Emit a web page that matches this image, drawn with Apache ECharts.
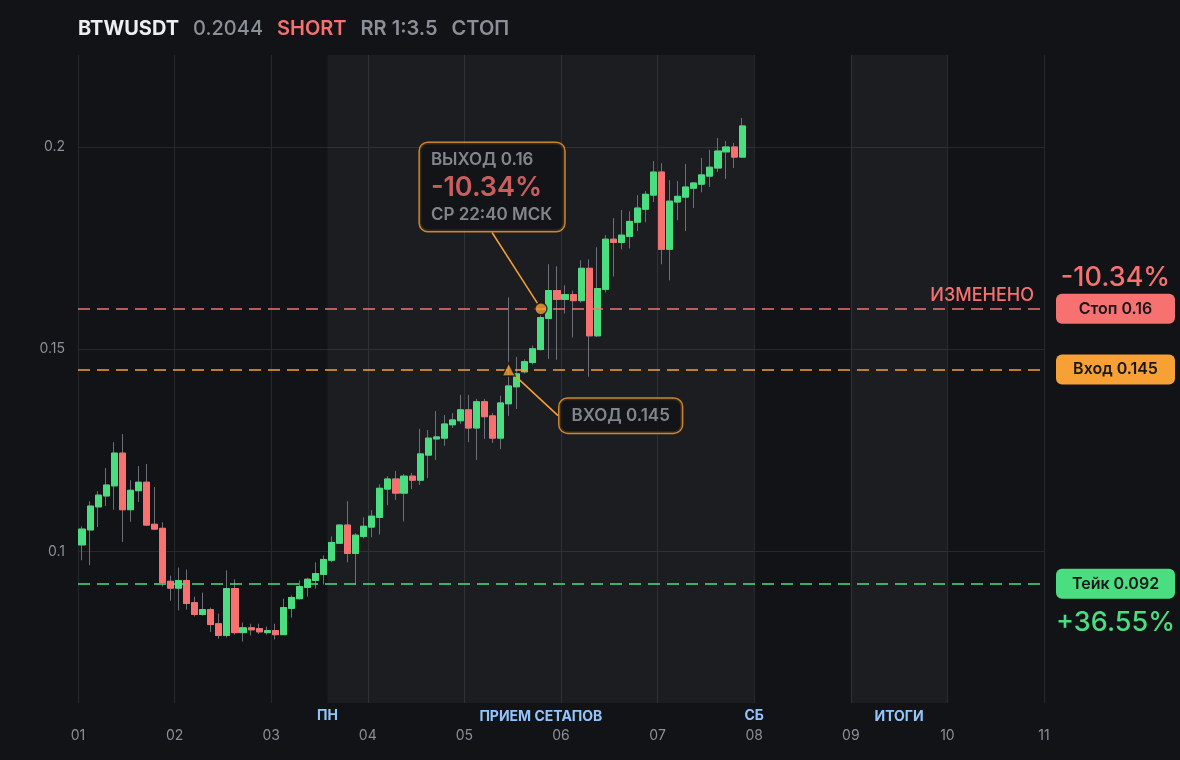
<!DOCTYPE html>
<html><head><meta charset="utf-8">
<script src="https://cdn.jsdelivr.net/npm/echarts@6/dist/echarts.min.js"></script>
<style>html,body{margin:0;padding:0;background:#121317;}#c{width:1180px;height:760px;}</style>
</head><body><div id="c"></div>
<script>
// ---- data ----
const dayLabels = ['01','02','03','04','05','06','07','08','09','10','11'];
// 2-hour candles starting at day 01 00:00
const opens  = [0.1016,0.1053,0.1110,0.1137,0.1162,0.1243,0.1103,0.1150,0.1171,0.1067,0.1057,0.0926,0.0909,0.0928,0.0873,0.0844,0.0856,0.0821,0.0792,0.0908,0.0799,0.0811,0.0809,0.0799,0.0804,0.0794,0.0859,0.0883,0.0911,0.0928,0.0943,0.0978,0.1020,0.1065,0.0995,0.1037,0.1060,0.1084,0.1154,0.1179,0.1144,0.1186,0.1176,0.1238,0.1278,0.1280,0.1313,0.1323,0.1350,0.1305,0.1370,0.1335,0.1280,0.1365,0.1407,0.1444,0.1467,0.1499,0.1576,0.1645,0.1623,0.1635,0.1620,0.1700,0.1533,0.1648,0.1772,0.1764,0.1779,0.1814,0.1846,0.1881,0.1938,0.1747,0.1864,0.1876,0.1898,0.1908,0.1928,0.1948,0.1988,0.2000,0.1975];
const closes = [0.1055,0.1112,0.1139,0.1164,0.1243,0.1103,0.1151,0.1171,0.1065,0.1055,0.0923,0.0909,0.0928,0.0871,0.0844,0.0856,0.0819,0.0792,0.0908,0.0799,0.0811,0.0806,0.0801,0.0804,0.0794,0.0861,0.0886,0.0913,0.0931,0.0945,0.0980,0.1022,0.1065,0.0995,0.1040,0.1062,0.1087,0.1156,0.1179,0.1144,0.1186,0.1176,0.1241,0.1280,0.1283,0.1315,0.1325,0.1350,0.1305,0.1370,0.1333,0.1280,0.1367,0.1409,0.1439,0.1469,0.1501,0.1578,0.1645,0.1623,0.1635,0.1620,0.1700,0.1533,0.1650,0.1772,0.1764,0.1782,0.1816,0.1849,0.1883,0.1938,0.1747,0.1866,0.1878,0.1901,0.1911,0.1931,0.1950,0.1990,0.2000,0.1975,0.2052];
const lows   = [0.0978,0.0966,0.1060,0.1112,0.1103,0.1023,0.1073,0.1122,0.1063,0.1054,0.0913,0.0878,0.0854,0.0856,0.0839,0.0841,0.0801,0.0784,0.0787,0.0794,0.0777,0.0792,0.0796,0.0794,0.0782,0.0794,0.0836,0.0881,0.0888,0.0908,0.0918,0.0973,0.1020,0.0973,0.0918,0.1032,0.1035,0.1042,0.1114,0.1127,0.1074,0.1154,0.1164,0.1181,0.1226,0.1261,0.1305,0.1315,0.1270,0.1226,0.1278,0.1268,0.1253,0.1335,0.1352,0.1440,0.1462,0.1497,0.1476,0.1474,0.1588,0.1529,0.1615,0.1432,0.1530,0.1640,0.1680,0.1747,0.1749,0.1792,0.1814,0.1864,0.1710,0.1670,0.1819,0.1792,0.1849,0.1888,0.1901,0.1938,0.1921,0.1948,0.1975];
const highs  = [0.1062,0.1124,0.1149,0.1206,0.1270,0.1290,0.1176,0.1211,0.1216,0.1159,0.1072,0.0940,0.0960,0.0955,0.0888,0.0898,0.0861,0.0846,0.0953,0.0931,0.0824,0.0821,0.0821,0.0814,0.0821,0.0883,0.0891,0.0928,0.0935,0.0973,0.0990,0.1037,0.1067,0.1124,0.1045,0.1084,0.1102,0.1166,0.1186,0.1199,0.1191,0.1194,0.1303,0.1300,0.1347,0.1337,0.1342,0.1387,0.1387,0.1377,0.1377,0.1342,0.1385,0.1628,0.1481,0.1475,0.1509,0.1585,0.1710,0.1705,0.1658,0.1645,0.1720,0.1722,0.1752,0.1782,0.1824,0.1844,0.1841,0.1881,0.1891,0.1965,0.1960,0.1918,0.1916,0.1958,0.1913,0.1973,0.1993,0.2022,0.2015,0.2010,0.2072];
const stopPrice = 0.16, entryPrice = 0.145, takePrice = 0.092;
const entryHour = 107, exitHour = 115;
const zones = [[62, 168, 'ПРИЕМ СЕТАПОВ'], [192, 216, 'ИТОГИ']];
const zoneEdges = [[62, 'ПН'], [168, 'СБ']];

// ---- styles ----
const BG = '#121317', GREEN = '#4ade80', RED = '#f87171', ORANGE = '#f7a035', GREY = '#8b8f97';
const NONE = 'rgba(0,0,0,0)';
const hours = opens.map((_, i) => 2 * i + 1);
const wickData = hours.map((h, i) => [h, opens[i], closes[i], lows[i], highs[i]]);
const bodyData = hours.map((h, i) => [h, opens[i], closes[i], Math.min(opens[i], closes[i]), Math.max(opens[i], closes[i])]);

const pillStyle = (bg) => ({width: 119, height: 30, lineHeight: 30, align: 'center', backgroundColor: bg, borderRadius: 6, color: '#16171b', fontSize: 16, fontWeight: 600});

const chart = echarts.init(document.getElementById('c'));
chart.setOption({
  backgroundColor: BG,
  animation: false,
  textStyle: {fontFamily: 'Inter'},
  title: {
    left: 78, top: 15, padding: 0,
    text: '{s|BTWUSDT}{p|0.2044}{d|SHORT}{g|RR 1:3.5}{h|СТОП}',
    textStyle: {rich: {
      s: {fontSize: 20, fontWeight: 700, color: '#eceef2', padding: [0, 14, 0, 0], lineHeight: 28},
      p: {fontSize: 20, fontWeight: 500, color: GREY, padding: [0, 14, 0, 0], lineHeight: 28},
      d: {fontSize: 20, fontWeight: 600, color: RED, padding: [0, 14, 0, 0], lineHeight: 28},
      g: {fontSize: 20, fontWeight: 600, color: GREY, padding: [0, 14, 0, 0], lineHeight: 28},
      h: {fontSize: 20, fontWeight: 600, color: GREY, lineHeight: 28}
    }}
  },
  grid: {left: 78, right: 136, top: 55, bottom: 57},
  xAxis: {
    type: 'value', min: 0, max: 240, interval: 24,
    axisLine: {show: false}, axisTick: {show: false},
    axisLabel: {color: GREY, fontSize: 14, margin: 26, formatter: v => dayLabels[Math.round(v / 24)]},
    splitLine: {show: true, lineStyle: {color: '#26282e', width: 1}}
  },
  yAxis: {
    type: 'value', min: 0.0625, max: 0.22275, splitNumber: 3,
    axisLine: {show: false}, axisTick: {show: false},
    axisLabel: {color: GREY, fontSize: 14, margin: 13, showMinLabel: false, showMaxLabel: false,
      formatter: v => (Math.abs(v * 20 - Math.round(v * 20)) < 1e-6 ? String(+v.toFixed(3)) : '')},
    splitLine: {show: true, showMinLine: false, showMaxLine: false, lineStyle: {color: '#26282e', width: 1}}
  },
  series: [
    {
      type: 'candlestick', name: 'wick', barWidth: 6.6, encode: {x: 0, y: [1, 2, 3, 4]},
      data: wickData,
      itemStyle: {color: NONE, color0: NONE, borderColor: '#6c6f77', borderColor0: '#6c6f77', borderWidth: 1},
      markArea: {
        silent: true,
        itemStyle: {color: 'rgba(255,255,255,0.045)'},
        label: {position: 'bottom', distance: 7, color: '#93c5fd', fontSize: 14, fontWeight: 700},
        data: zones.map(z => [{xAxis: z[0], name: z[2]}, {xAxis: z[1]}])
      }
    },
    {
      type: 'candlestick', name: 'body', barWidth: 6.6, encode: {x: 0, y: [1, 2, 3, 4]},
      data: bodyData,
      itemStyle: {color: GREEN, color0: RED, borderColor: GREEN, borderColor0: RED, borderWidth: 1},
      markLine: {
        silent: true, symbol: 'none', precision: 4,
        data: [
          {yAxis: stopPrice, lineStyle: {color: RED, type: [12, 7], width: 1.6},
            label: {position: 'end', distance: 12, formatter: '{pct|-10.34%}\n{pill|Стоп 0.16}\n{sp| }',
              rich: {pct: {width: 119, align: 'center', lineHeight: 32, fontSize: 27, fontWeight: 500, color: RED},
                     pill: pillStyle(RED), sp: {width: 119, lineHeight: 32}}}},
          {yAxis: stopPrice, lineStyle: {color: NONE, width: 0},
            label: {position: 'insideEndTop', distance: [10, 4], formatter: 'ИЗМЕНЕНО', color: RED, fontSize: 18, fontWeight: 500}},
          {yAxis: entryPrice, lineStyle: {color: ORANGE, type: [12, 7], width: 1.6},
            label: {position: 'end', distance: 12, formatter: '{pill|Вход 0.145}', rich: {pill: pillStyle(ORANGE)}}},
          {yAxis: takePrice, lineStyle: {color: GREEN, type: [12, 7], width: 1.6},
            label: {position: 'end', distance: 12, formatter: '{sp| }\n{pill|Тейк 0.092}\n{pct|+36.55%}',
              rich: {pct: {width: 119, align: 'center', lineHeight: 48, fontSize: 27, fontWeight: 500, color: GREEN},
                     pill: pillStyle(GREEN), sp: {width: 119, lineHeight: 48}}}},
          ...zoneEdges.map(e => ({xAxis: e[0], lineStyle: {color: NONE, width: 0},
            label: {position: 'start', distance: 6, formatter: e[1], color: '#93c5fd', fontSize: 14, fontWeight: 700}}))
        ]
      }
    },
    {
      type: 'scatter', name: 'exit', z: 10,
      data: [[exitHour, stopPrice]],
      symbol: 'circle', symbolSize: 12,
      itemStyle: {color: ORANGE, borderColor: BG, borderWidth: 1.5},
      label: {show: true, position: 'top', distance: 5, align: 'left',
        formatter: '{a|ВЫХОД 0.16}\n{b|-10.34%}\n{a|СР 22:40 МСК}',
        backgroundColor: BG, borderColor: ORANGE, borderWidth: 1.5, borderRadius: 8, padding: [6, 12, 5, 11],
        rich: {a: {fontSize: 17, fontWeight: 600, color: '#9ea2aa', lineHeight: 22},
               b: {fontSize: 27, fontWeight: 600, color: RED, lineHeight: 33}}},
      labelLayout: {dx: -121, dy: -66},
      labelLine: {show: true, lineStyle: {color: ORANGE, width: 1.5}}
    },
    {
      type: 'scatter', name: 'entry', z: 10,
      data: [[entryHour, entryPrice]],
      symbol: 'triangle', symbolSize: 13,
      itemStyle: {color: ORANGE, borderColor: BG, borderWidth: 1.5},
      label: {show: true, position: 'bottom', distance: 5,
        formatter: '{a|ВХОД 0.145}',
        backgroundColor: BG, borderColor: ORANGE, borderWidth: 1.5, borderRadius: 8, padding: [7, 12, 7, 12],
        rich: {a: {fontSize: 17, fontWeight: 600, color: '#9ea2aa', lineHeight: 20}}},
      labelLayout: {dx: 112, dy: 17},
      labelLine: {show: true, lineStyle: {color: ORANGE, width: 1.5}}
    }
  ]
});
</script></body></html>
